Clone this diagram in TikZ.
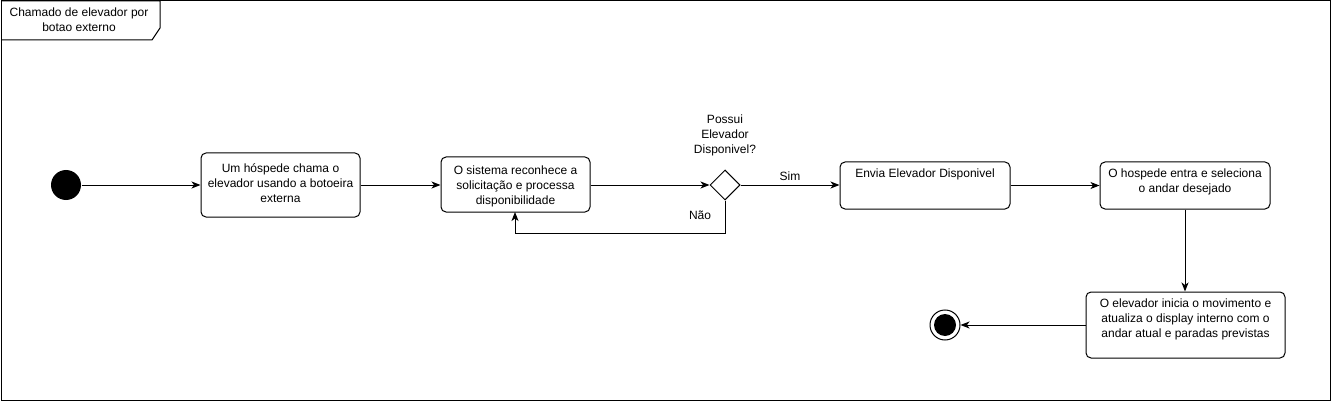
\documentclass[tikz,border=0pt]{standalone}
\usepackage{fontspec}
\setmainfont{Liberation Sans}
\usetikzlibrary{arrows.meta,shapes.geometric}
\begin{document}
\begin{tikzpicture}[x=1pt,y=-1pt,
  font=\fontsize{12}{15}\selectfont,
  line width=1pt,
  act/.style={draw,rounded corners=5pt,inner sep=0pt},
  arr/.style={-{Stealth[length=9pt,width=7pt,inset=2.5pt]}},
  lbl/.style={align=center,inner sep=0pt}]
\useasboundingbox (0,0) rectangle (1331,401);
\draw (1,1) rectangle (1330,400);
\draw (1,1) -- (160,1) -- (160,28) -- (152,40) -- (1,40);
\node[lbl] (title) at (79,20) {Chamado de elevador por\\botao externo};

\fill (66,185) circle (15) coordinate (start);
\node[circle,minimum size=30pt,inner sep=0pt] (st) at (66,185) {};

\draw[act] (201,153) rectangle (360,217);
\node[minimum width=159pt,minimum height=64pt,inner sep=0pt] (b1) at (280.5,185) {};
\node[lbl] at (280.5,183) {Um hóspede chama o\\elevador usando a botoeira\\externa};

\draw[act] (441,157) rectangle (590,212);
\node[minimum width=149pt,minimum height=55pt,inner sep=0pt] (b2) at (515.5,184.5) {};
\node[lbl] at (515.5,186) {O sistema reconhece a\\solicitação e processa\\disponibilidade};

\node[diamond,draw,minimum width=30pt,minimum height=30pt,inner sep=0pt,aspect=1] (d) at (725,185) {};
\node[lbl] at (725,135) {Possui\\Elevador\\Disponivel?};

\draw[act] (840,162) rectangle (1010,209);
\node[minimum width=170pt,minimum height=47pt,inner sep=0pt] (b3) at (925,185.5) {};
\node[lbl] at (925,174) {Envia Elevador Disponivel};

\draw[act] (1100,162) rectangle (1270,209);
\node[minimum width=170pt,minimum height=47pt,inner sep=0pt] (b4) at (1185,185.5) {};
\node[lbl] at (1185,182) {O hospede entra e seleciona\\o andar desejado};

\draw[act] (1086,292) rectangle (1285,358);
\node[minimum width=199pt,minimum height=66pt,inner sep=0pt] (b5) at (1185.5,325) {};
\node[lbl] at (1185.5,319) {O elevador inicia o movimento e\\atualiza o display interno com o\\andar atual e paradas previstas};

\draw (945,325) circle (15);
\fill (945,325) circle (11);
\node[circle,minimum size=30pt,inner sep=0pt] (end) at (945,325) {};

\draw[arr] (st.east) -- (b1.west);
\draw[arr] (b1.east) -- (b2.west |- b1.east);
\draw[arr] (b2.east |- d.west) -- (d.west);
\draw[arr] (d.east) -- node[above=4pt,inner sep=0pt] {Sim} (b3.west |- d.east);
\draw[arr] (d.south) -- (725,233) -- (515,233) -- (515,212);
\node[lbl] at (700,215) {Não};
\draw[arr] (b3.east) -- (b4.west);
\draw[arr] (b4.south) -- (b4.south |- b5.north);
\draw[arr] (b5.west) -- (end.east);
\end{tikzpicture}
\end{document}
